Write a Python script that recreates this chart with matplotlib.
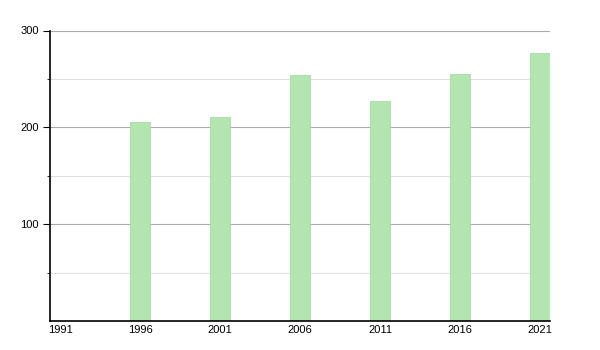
import numpy as np
import matplotlib
matplotlib.use('Agg')
import matplotlib.pyplot as plt
import matplotlib.ticker as mticker

plt.rcParams['font.family'] = ['Liberation Sans', 'DejaVu Sans']

# Данные
years = ['1991', '1996', '2001', '2006', '2011', '2016', '2021']
values = [0, 206, 211, 254, 227, 255, 277]

fig = plt.figure(figsize=(6, 3.5), dpi=100)
ax = fig.add_axes([50 / 600, 29 / 350, 500 / 600, 290.5 / 350])

pos = np.arange(len(years))
width = 0.25
ax.bar(pos, values, width=width, align='edge', color='#b3e5b0',
       edgecolor='#a6dba3', linewidth=0.6, zorder=2)

ax.set_xlim(0, len(years) - 1 + width)
ax.set_ylim(0, 300)
ax.set_xticks(pos + width / 2)
ax.set_xticklabels(years, fontsize=8)
ax.tick_params(axis='x', length=0, pad=3)

ax.yaxis.set_major_locator(mticker.FixedLocator([100, 200, 300]))
ax.yaxis.set_minor_locator(mticker.FixedLocator([50, 150, 250]))
ax.tick_params(axis='y', which='major', length=5, labelsize=8, pad=3)
ax.tick_params(axis='y', which='minor', length=2)

ax.grid(axis='y', which='major', color='#aaaaaa', linewidth=0.8, zorder=0)
ax.grid(axis='y', which='minor', color='#e0e0e0', linewidth=0.8, zorder=0)
ax.set_axisbelow(True)

for s in ['top', 'right']:
    ax.spines[s].set_visible(False)
ax.spines['left'].set_linewidth(1.2)
ax.spines['bottom'].set_linewidth(1.2)

plt.savefig('out.png', dpi=100)
